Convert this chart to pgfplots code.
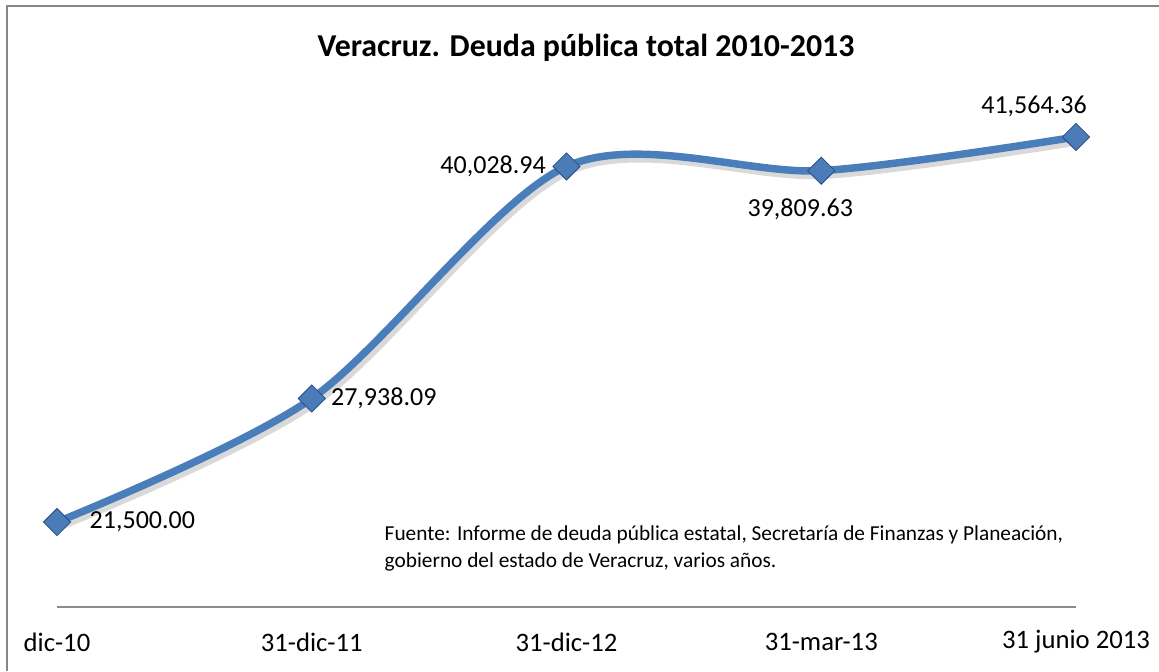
\documentclass[border=0pt]{standalone}
\usepackage{pgfplots}
\pgfplotsset{compat=1.18}
\usepackage{fontspec}
\setmainfont{Carlito}
\definecolor{lineblue}{RGB}{74,126,187}
\definecolor{markblue}{RGB}{76,124,184}
\definecolor{markdark}{RGB}{36,78,132}
\definecolor{framegray}{RGB}{134,134,134}
\definecolor{axisgray}{RGB}{140,140,140}
\newcommand\lab{\fontsize{19.5}{23}\selectfont}
\begin{document}
\begin{tikzpicture}[x=0.75pt,y=0.75pt]
\useasboundingbox (0,0) rectangle (1159,671);
\draw[framegray, line width=2pt] (7,0) -- (7,665) -- (1159,665);
\node[font=\bfseries\fontsize{23.9}{28}\selectfont] at (586,623) {Veracruz. Deuda pública total 2010-2013};
\node[anchor=west, align=left, font=\fontsize{16}{20.25}\selectfont] at (380,122.5) {Fuente: Informe de deuda pública estatal, Secretaría de Finanzas y Planeación,\\gobierno del estado de Veracruz, varios años.};
\begin{axis}[at={(42.75pt,48pt)}, anchor=south west, scale only axis,
  width=764.25pt, height=352.5pt,
  xmin=0, xmax=4, ymin=17075, ymax=41564.36,
  clip=false,
  axis x line=bottom, axis y line=none,
  x axis line style={axisgray, line width=1.2pt, -},
  xtick={0,1,2,3,4},
  xticklabels={dic-10,31-dic-11,31-dic-12,31-mar-13,31 junio 2013},
  major tick length=0pt,
  xticklabel style={anchor=center, yshift=-26.25pt, font=\fontsize{20}{24}\selectfont},
  ]
\addplot[smooth, black, opacity=0.15, line width=6.5pt, xshift=2pt, yshift=-3pt, forget plot] coordinates {(0,21500) (1,27938.09) (2,40028.94) (3,39809.63) (4,41564.36)};
\addplot[smooth, lineblue, line width=5.6pt, mark=square*, mark size=7.2pt,
  mark options={rotate=45, fill=markblue, draw=markdark, line width=0.6pt, solid}]
  coordinates {(0,21500) (1,27938.09) (2,40028.94) (3,39809.63) (4,41564.36)};
\node[anchor=west, font=\lab, xshift=21pt] at (axis cs:0,21500) {21,500.00};
\node[anchor=west, font=\lab, xshift=11pt] at (axis cs:1,27938.09) {27,938.09};
\node[anchor=east, font=\lab, xshift=-12pt] at (axis cs:2,40028.94) {40,028.94};
\node[font=\lab, xshift=-15.75pt, yshift=-29.25pt] at (axis cs:3,39809.63) {39,809.63};
\node[font=\lab, xshift=-31.5pt, yshift=23.25pt] at (axis cs:4,41564.36) {41,564.36};
\end{axis}
\end{tikzpicture}
\end{document}
